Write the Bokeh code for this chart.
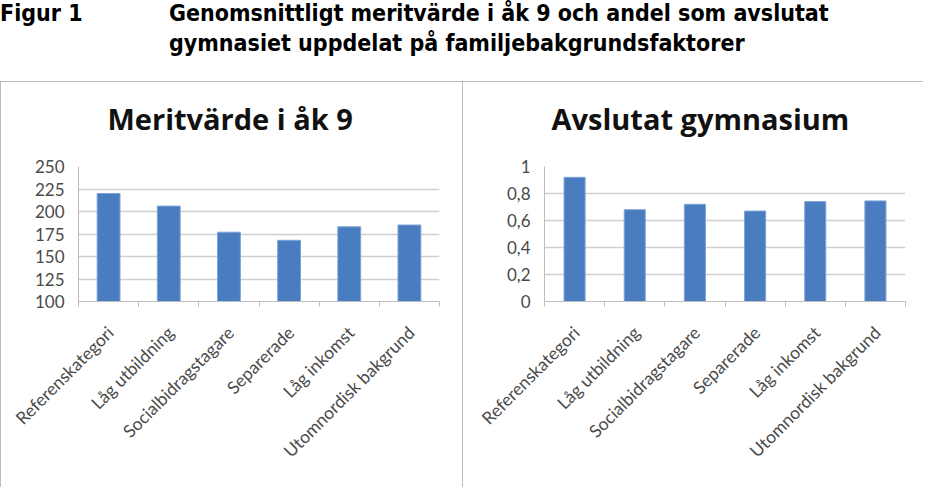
import math
from bokeh.plotting import figure
from bokeh.models import (Range1d, FixedTicker, Div, CustomJSTickFormatter,
                          BasicTickFormatter, ColumnDataSource, Title)
from bokeh.layouts import column, row
from bokeh.embed import file_html
from bokeh.resources import INLINE

# ---------------- data ----------------
categories = ["Referenskategori", "Låg utbildning", "Socialbidragstagare",
              "Separerade", "Låg inkomst", "Utomnordisk bakgrund"]
merit_values = [220, 206, 177, 168, 183, 185]
gymnasium_values = [0.92, 0.68, 0.72, 0.67, 0.74, 0.745]
merit_ticks = [100, 125, 150, 175, 200, 225, 250]
gym_ticks = [0, 0.2, 0.4, 0.6, 0.8, 1]
fig_label = "Figur 1"
title_lines = ["Genomsnittligt meritvärde i åk 9 och andel som avslutat",
               "gymnasiet uppdelat på familjebakgrundsfaktorer"]
chart_titles = ["Meritvärde i åk 9", "Avslutat gymnasium"]

BAR = "#4a7cc0"
GRID = "#d0d0d0"
AXIS = "#bdbdbd"
LABEL = "#4a4a4a"

n = len(categories)
centers = [i + 0.5 for i in range(n)]
boundaries = list(range(n + 1))
LABEL_SHIFT = 0.03  # small nudge of the rotated labels' anchor


def make_chart(title, values, ticks, width, bl, br, bar_width, title_offset, formatter):
    ymin, ymax = ticks[0], ticks[-1]
    p = figure(x_range=Range1d(0, n),
               y_range=Range1d(ymin, ymax),
               width=width, height=406,
               min_border_left=bl, min_border_right=br,
               min_border_top=85, min_border_bottom=186,
               output_backend="svg", toolbar_location=None)
    p.outline_line_color = None
    p.background_fill_color = "white"
    p.border_fill_color = "white"
    p.styles = {"outline": "2px solid #a9a9a9", "outline-offset": "-2px"}

    # spacer between frame and title, then the title itself
    p.add_layout(Title(text=" ", text_font_size="14px", standoff=0), "above")
    p.add_layout(Title(text=title, align="left", offset=title_offset, standoff=22,
                       text_font="Open Sans", text_font_style="bold",
                       text_font_size="29px", text_color="#111111"), "above")

    src = ColumnDataSource(dict(x=centers, val=values, cat=categories))
    p.vbar(x="x", top="val", bottom=ymin, width=bar_width, source=src,
           fill_color=BAR, line_color="#7ea3d8", line_width=1)

    # y axis
    ya = p.yaxis[0]
    ya.ticker = FixedTicker(ticks=ticks)
    ya.formatter = formatter
    ya.axis_line_color = AXIS
    ya.major_tick_line_color = None
    ya.minor_tick_line_color = None
    ya.major_tick_in = 0
    ya.major_tick_out = 0
    ya.major_label_standoff = 14
    ya.major_label_text_font = "Lato"
    ya.major_label_text_font_size = "17px"
    ya.major_label_text_color = LABEL

    p.xgrid.visible = False
    p.ygrid.ticker = FixedTicker(ticks=ticks)
    p.ygrid.grid_line_color = GRID
    p.ygrid.grid_line_width = 1.5

    # x axis: category labels at centres, tick marks between categories
    xa = p.xaxis[0]
    xa.ticker = FixedTicker(ticks=[c + LABEL_SHIFT for c in centers], minor_ticks=boundaries)
    xa.formatter = CustomJSTickFormatter(args=dict(labels=categories),
                                         code="return labels[Math.floor(tick)];")
    xa.axis_line_color = AXIS
    xa.major_tick_line_color = None
    xa.major_tick_in = 0
    xa.major_tick_out = 0
    xa.minor_tick_line_color = AXIS
    xa.minor_tick_in = 0
    xa.minor_tick_out = 5
    xa.major_label_orientation = math.pi / 4
    xa.major_label_standoff = 23
    xa.major_label_text_font = "Lato"
    xa.major_label_text_font_size = "17.5px"
    xa.major_label_text_color = LABEL
    return p


p1 = make_chart(chart_titles[0], merit_values, merit_ticks, 462, 78, 23, 0.38, 29,
                BasicTickFormatter())
gym_fmt = CustomJSTickFormatter(code="""
    var s = tick.toFixed(1).replace('.', ',');
    return s.replace(/,0$/, '');
""")
p2 = make_chart(chart_titles[1], gymnasium_values, gym_ticks, 461, 82, 18, 0.35, 7,
                gym_fmt)

head_html = (
    '<div style="position:relative; left:-5px; top:-7px; width:930px; height:70px; '
    "font-family:'Liberation Sans Narrow','DejaVu Sans Condensed',sans-serif; "
    'font-weight:bold; font-size:23px; line-height:30px; color:#000; white-space:nowrap;">'
    '<div style="position:absolute; left:0; top:0;">' + fig_label + '</div>'
    '<div style="position:absolute; left:169px; top:0;">' + "<br>".join(title_lines) + '</div>'
    '</div>'
)
head = Div(text=head_html, width=923, height=71)

layout = column(head, row(p1, p2, spacing=0), spacing=0)

open("out.html", "w").write(file_html(layout, INLINE))
